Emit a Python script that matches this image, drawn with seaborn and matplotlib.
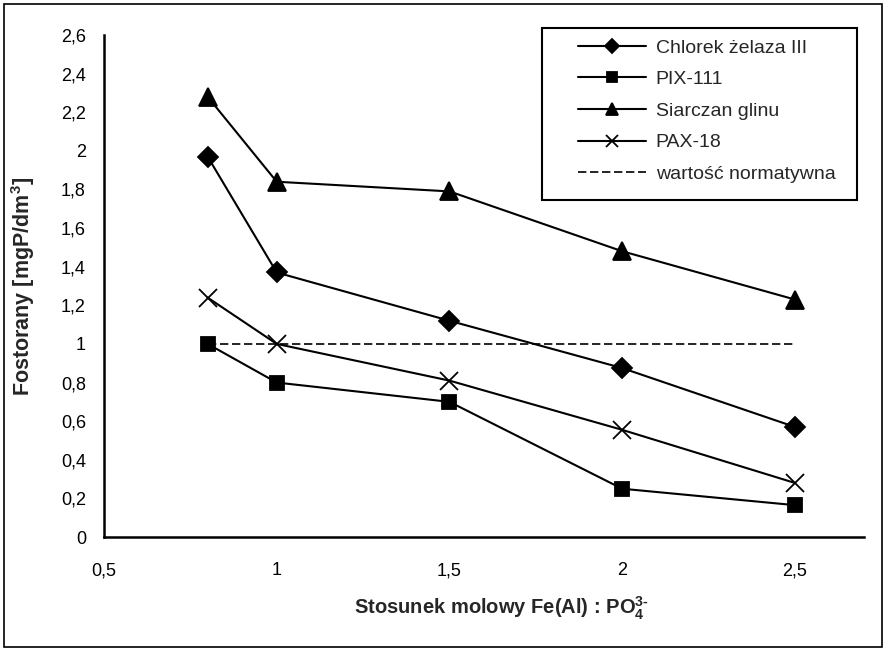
import matplotlib
matplotlib.use("Agg")
import matplotlib.pyplot as plt
import seaborn as sns
import pandas as pd
from matplotlib.patches import Rectangle

x_vals = [0.8, 1.0, 1.5, 2.0, 2.5]
chlorek = [1.97, 1.37, 1.12, 0.875, 0.57]
pix111 = [1.0, 0.80, 0.70, 0.25, 0.165]
siarczan = [2.28, 1.84, 1.79, 1.48, 1.23]
pax18 = [1.24, 1.0, 0.81, 0.555, 0.28]
norm_x = [0.8, 2.5]
norm_y = [1.0, 1.0]

series_names = ["Chlorek żelaza III", "PIX-111", "Siarczan glinu", "PAX-18"]
norm_name = "wartość normatywna"
x_ticks = [0.5, 1.0, 1.5, 2.0, 2.5]
x_ticklabels = ["0,5", "1", "1,5", "2", "2,5"]
y_ticks = [0, 0.2, 0.4, 0.6, 0.8, 1.0, 1.2, 1.4, 1.6, 1.8, 2.0, 2.2, 2.4, 2.6]
y_ticklabels = ["0", "0,2", "0,4", "0,6", "0,8", "1", "1,2", "1,4", "1,6", "1,8", "2", "2,2", "2,4", "2,6"]

sns.set_style("white")
plt.rcParams['font.family'] = ['Liberation Sans', 'DejaVu Sans']
plt.rcParams['mathtext.fontset'] = 'custom'
plt.rcParams['mathtext.rm'] = 'Liberation Sans:bold'
plt.rcParams['mathtext.bf'] = 'Liberation Sans:bold'
plt.rcParams['mathtext.it'] = 'Liberation Sans:italic'

fig = plt.figure(figsize=(8.85, 6.51), dpi=100)
ax = fig.add_axes([104/885, 1-537/651, (864-104)/885, (537-35)/651])

styles = [
    (chlorek, "D", 10),
    (pix111, "s", 10),
    (siarczan, "^", 12.5),
    (pax18, "x", 13),
]
for name, (vals, mk, ms) in zip(series_names, styles):
    df = pd.DataFrame({"x": x_vals, "y": vals})
    sns.lineplot(data=df, x="x", y="y", ax=ax, color="black", lw=1.5,
                 marker=mk, markersize=ms, markeredgecolor="black",
                 markerfacecolor="black", markeredgewidth=1.3, label=name)

dfn = pd.DataFrame({"x": norm_x, "y": norm_y})
sns.lineplot(data=dfn, x="x", y="y", ax=ax, color="black", lw=1.2,
             linestyle=(0, (5, 2.2)), label=norm_name)

ax.set_xlim(0.5, 2.7)
ax.set_ylim(0, 2.6)
ax.set_xticks(x_ticks)
ax.set_xticklabels(x_ticklabels)
ax.set_yticks(y_ticks)
ax.set_yticklabels(y_ticklabels)
ax.tick_params(axis="both", which="major", direction="out", length=5, width=1.2,
               labelsize=13, color="black", labelcolor="black")
ax.tick_params(axis="y", pad=8)
ax.tick_params(axis="x", pad=13)
for s in ["top", "right"]:
    ax.spines[s].set_visible(False)
for s in ["left", "bottom"]:
    ax.spines[s].set_color("black")
    ax.spines[s].set_linewidth(1.8)

ax.set_xlabel("")
ax.set_ylabel(r"Fostorany [mgP/dm$^{\mathbf{3}}$]", fontsize=15.5, fontweight="bold", labelpad=2)
ax.yaxis.set_label_coords(-0.088, 0.50)

fig.text(501/885, 1-608/651, r"Stosunek molowy Fe(Al) : PO$_{\mathbf{4}}^{\mathbf{3}\text{-}}$",
         ha="center", va="center", fontsize=14.5, fontweight="bold")

leg = ax.legend(loc="upper left", bbox_to_anchor=(578/885, 1-39/651),
                bbox_transform=fig.transFigure, frameon=False,
                fontsize=14, handlelength=3.5, labelspacing=0.72,
                borderpad=0, handletextpad=0.5, borderaxespad=0)
handle_ms = [7, 7, 8, 8]
for h, m in zip(leg.legend_handles[:4], handle_ms):
    h.set_markersize(m)

fig.patches.append(Rectangle((542/885, 1-200/651), (857-542)/885, (200-28)/651,
                             transform=fig.transFigure, fill=False,
                             edgecolor="black", lw=1.5))
fig.patches.append(Rectangle((4/885, 4/651), 878/885, 643/651, transform=fig.transFigure,
                             fill=False, edgecolor="black", lw=1.2))

fig.savefig("out.png", dpi=100)
